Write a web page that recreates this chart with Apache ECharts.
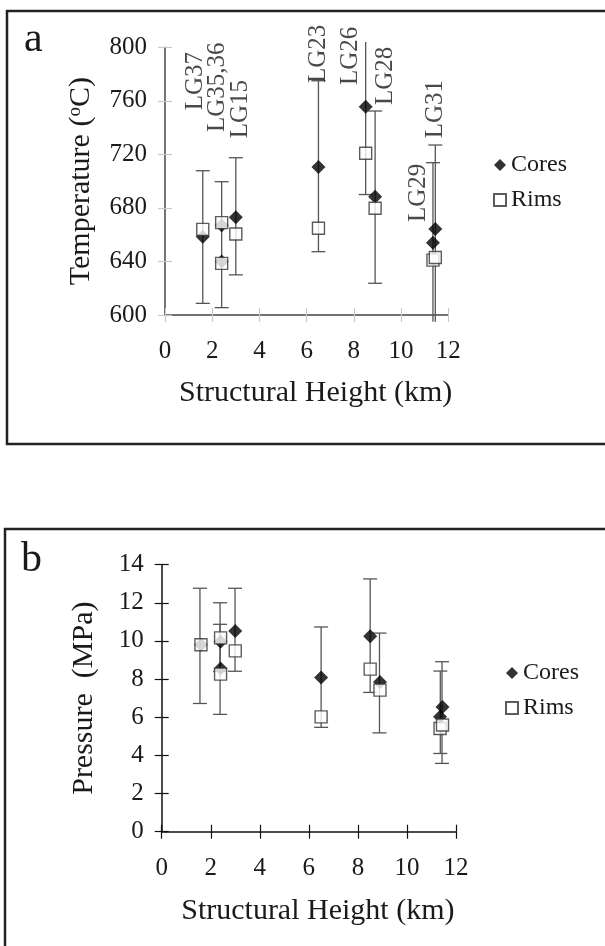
<!DOCTYPE html>
<html><head><meta charset="utf-8">
<script src="https://cdn.jsdelivr.net/npm/echarts@6/dist/echarts.min.js"></script>
<style>html,body{margin:0;padding:0;background:#fff}#c{width:605px;height:946px}</style>
</head><body><div id="c"></div>
<script>
// ---- data ----
const samples    = ['LG37','LG35','LG36','LG15','LG23','LG26','LG28','LG29','LG31'];
const heightKm   = [1.6, 2.4, 2.4, 3.0, 6.5, 8.5, 8.9, 11.35, 11.45];
const tempCores  = [658.5, 667, 640, 673, 710.6, 755.6, 688.4, 654, 664.3];
const tempRims   = [664, 669, 638.6, 660.5, 664.8, 720.8, 679.8, 641, 643];
const presCores  = [9.8, 9.95, 8.55, 10.52, 8.08, 10.25, 7.85, 6.02, 6.54];
const presRims   = [9.8, 10.16, 8.26, 9.48, 6.02, 8.52, 7.42, 5.41, 5.59];

const tempErrHeight = [1.6, 2.4, 3.0, 6.5, 8.5, 8.9, 11.35, 11.45];
const tempErrLow    = [608.7, 605.5, 630, 647.3, 690, 623.7, 595, 595];
const tempErrHigh   = [707.8, 699.6, 717.5, 775, 804, 752.4, 713.8, 727];

const presErrHeight = [1.56, 2.38, 2.38, 2.99, 6.5, 8.5, 8.88, 11.36, 11.43];
const presErrLow    = [6.72, 6.15, 8.4, 8.41, 5.47, 7.3, 5.18, 4.1, 3.58];
const presErrHigh   = [12.76, 12.0, 10.87, 12.76, 10.73, 13.25, 10.41, 8.42, 8.91];

// sample annotations (anchor = start of the rotated text, in data units)
const labelNames  = ['LG37','LG35,36','LG15','LG23','LG26','LG28','LG29','LG31'];
const labelHeight = [1.27, 2.2, 3.18, 6.48, 7.84, 9.32, 10.72, 11.44];
const labelTemp   = [753, 736.7, 732, 773.3, 771.8, 756.9, 669.5, 732];

const xTicks    = [0, 2, 4, 6, 8, 10, 12];
const tempTicks = [600, 640, 680, 720, 760, 800];
const presTicks = [0, 2, 4, 6, 8, 10, 12, 14];

const seriesNames = ['Cores', 'Rims'];
const xName = 'Structural Height (km)';
const tempName = 'Temperature ({sup|o}C)';
const presName = 'Pressure  (MPa)';

// ---- styling ----
const FF = "'Liberation Serif','Times New Roman',serif";
const TXT = '#1a1a1a';
const step = a => a[1] - a[0];
const mn = a => a[0], mx = a => a[a.length - 1];

function errorBars(xi, yi, hs, lo, hi, yMin, yMax, color) {
  return {
    type: 'custom', xAxisIndex: xi, yAxisIndex: yi, clip: false, z: 1, silent: true,
    data: hs.map((h, i) => [h, lo[i], hi[i]]),
    renderItem(params, api) {
      const x = api.value(0), l = api.value(1), u = api.value(2);
      const a = api.coord([x, l]), b = api.coord([x, u]);
      const w = 7, st = { stroke: color, lineWidth: 1.3 };
      const ch = [{ type: 'line', shape: { x1: a[0], y1: a[1], x2: b[0], y2: b[1] }, style: st }];
      if (u <= yMax) ch.push({ type: 'line', shape: { x1: b[0] - w, y1: b[1], x2: b[0] + w, y2: b[1] }, style: st });
      if (l >= yMin) ch.push({ type: 'line', shape: { x1: a[0] - w, y1: a[1], x2: a[0] + w, y2: a[1] }, style: st });
      return { type: 'group', children: ch };
    }
  };
}

function points(name, xi, yi, ys, symbol) {
  const isCore = symbol === 'diamond';
  return {
    type: 'scatter', name, xAxisIndex: xi, yAxisIndex: yi, z: isCore ? 3 : 4,
    symbol, symbolSize: isCore ? 14 : 12,
    itemStyle: isCore ? { color: '#000' } : { color: '#fff', borderColor: '#333', borderWidth: 1.4 },
    data: heightKm.map((h, i) => [h, ys[i]])
  };
}

const tickLbl = { fontSize: 25, fontFamily: FF, color: TXT };
const nameStyle = { fontSize: 30, fontFamily: FF, color: TXT };

function mainX(gi, color, tickColor) {
  return {
    type: 'value', gridIndex: gi, position: 'bottom', min: mn(xTicks), max: mx(xTicks), interval: step(xTicks),
    splitLine: { show: false },
    axisLine: { onZero: false, lineStyle: { color, width: 1.5 } },
    axisTick: { length: 7, lineStyle: { color: tickColor, width: 1.2 } },
    axisLabel: Object.assign({ margin: 24 }, tickLbl),
    name: xName, nameLocation: 'middle', nameGap: gi === 0 ? 63 : 64,
    nameTextStyle: Object.assign({ padding: [0, 0, 0, 18] }, nameStyle)
  };
}
function innerX(gi, tickColor) {
  return {
    type: 'value', gridIndex: gi, position: 'bottom', min: mn(xTicks), max: mx(xTicks), interval: step(xTicks),
    splitLine: { show: false }, axisLine: { show: false, onZero: false }, axisLabel: { show: false },
    axisTick: { inside: true, length: 7, lineStyle: { color: tickColor, width: 1.2 } }
  };
}
function mainY(gi, ticks, name, gap, color, tickColor) {
  return {
    type: 'value', gridIndex: gi, position: 'left', min: mn(ticks), max: mx(ticks), interval: step(ticks),
    splitLine: { show: false },
    axisLine: { onZero: false, lineStyle: { color, width: 1.5 } },
    axisTick: { length: 7, lineStyle: { color: tickColor, width: 1.2 } },
    axisLabel: Object.assign({ margin: 18 }, tickLbl),
    name, nameLocation: 'middle', nameGap: gap,
    nameTextStyle: Object.assign({ rich: { sup: { fontSize: 19, fontFamily: FF, color: TXT, verticalAlign: 'top', padding: [0, 0, 10, 0] } } }, nameStyle)
  };
}
function innerY(gi, ticks, tickColor) {
  return {
    type: 'value', gridIndex: gi, position: 'left', min: mn(ticks), max: mx(ticks), interval: step(ticks),
    splitLine: { show: false }, axisLine: { show: false, onZero: false }, axisLabel: { show: false },
    axisTick: { inside: true, length: 7, lineStyle: { color: tickColor, width: 1.2 } }
  };
}

const legendBase = {
  data: seriesNames, orient: 'vertical', itemWidth: 12, itemHeight: 12, itemGap: 11,
  textStyle: { fontSize: 24, fontFamily: FF, color: TXT, lineHeight: 24 }, selectedMode: false
};

const option = {
  animation: false,
  backgroundColor: '#fff',
  grid: [
    { left: 165, top: 47.3, width: 283.3, height: 267.7 },
    { left: 161.7, top: 564.6, width: 294.3, height: 267.1 }
  ],
  xAxis: [
    mainX(0, '#444', '#c8c8c8'),
    mainX(1, '#111', '#111'),
    innerX(0, '#c8c8c8'),
    innerX(1, '#111')
  ],
  yAxis: [
    mainY(0, tempTicks, tempName, 69, '#444', '#c8c8c8'),
    mainY(1, presTicks, presName, 63, '#111', '#111'),
    innerY(0, tempTicks, '#c8c8c8'),
    innerY(1, presTicks, '#111')
  ],
  legend: [
    Object.assign({ left: 488, top: 148 }, legendBase),
    Object.assign({ left: 500, top: 656 }, legendBase)
  ],
  graphic: [
    { type: 'rect', shape: { x: 7, y: 11, width: 640, height: 433 }, style: { fill: 'none', stroke: '#222', lineWidth: 2.5 }, silent: true },
    { type: 'rect', shape: { x: 5, y: 529, width: 640, height: 460 }, style: { fill: 'none', stroke: '#222', lineWidth: 2.5 }, silent: true },
    { type: 'text', x: 24, y: 40, style: { text: 'a', fontSize: 42, fontFamily: FF, fill: TXT, verticalAlign: 'middle' }, silent: true },
    { type: 'text', x: 21, y: 560, style: { text: 'b', fontSize: 42, fontFamily: FF, fill: TXT, verticalAlign: 'middle' }, silent: true }
  ],
  series: [
    errorBars(0, 0, tempErrHeight, tempErrLow, tempErrHigh, mn(tempTicks), mx(tempTicks), '#555'),
    points(seriesNames[0], 0, 0, tempCores, 'diamond'),
    points(seriesNames[1], 0, 0, tempRims, 'rect'),
    errorBars(1, 1, presErrHeight, presErrLow, presErrHigh, mn(presTicks), mx(presTicks), '#555'),
    points(seriesNames[0], 1, 1, presCores, 'diamond'),
    points(seriesNames[1], 1, 1, presRims, 'rect'),
    {
      type: 'scatter', name: 'labels', xAxisIndex: 0, yAxisIndex: 0, symbolSize: 0, silent: true, z: 5,
      itemStyle: { color: 'rgba(0,0,0,0)' },
      data: labelNames.map((n, i) => ({ name: n, value: [labelHeight[i], labelTemp[i]] })),
      label: { show: true, formatter: '{b}', rotate: 90, position: [0, 0], align: 'left', verticalAlign: 'middle',
               fontSize: 25, fontFamily: FF, color: TXT }
    }
  ]
};

const chart = echarts.init(document.getElementById('c'), null, { renderer: 'canvas' });
chart.setOption(option);
</script>
</body></html>
